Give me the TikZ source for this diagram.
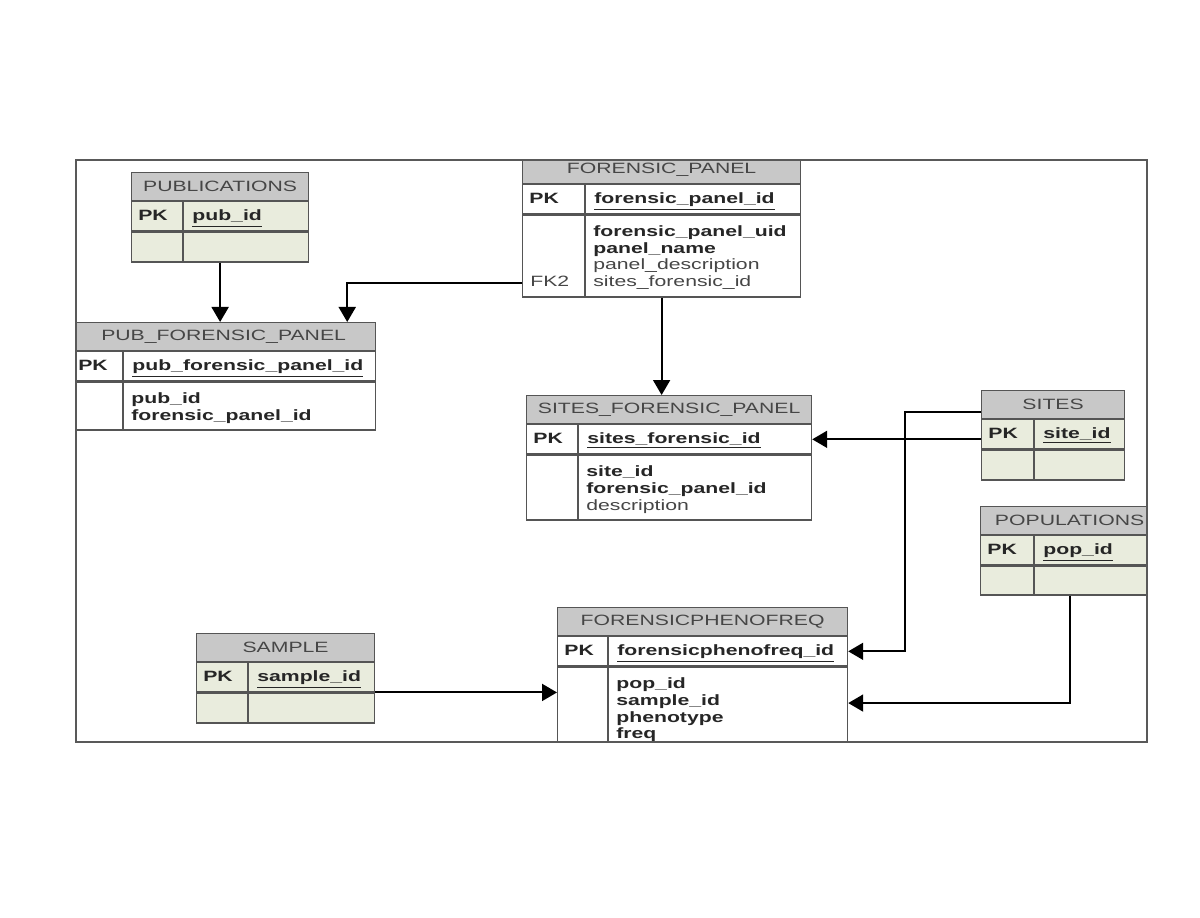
\documentclass[tikz,border=0pt]{standalone}
\usepackage{fontspec}
\setmainfont[FakeStretch=1.42]{Liberation Sans}
\usetikzlibrary{arrows.meta,positioning,calc}
\definecolor{hdrgray}{RGB}{200,200,200}
\definecolor{keygreen}{RGB}{233,236,221}
\definecolor{linegray}{RGB}{85,85,85}
\definecolor{textgray}{RGB}{70,70,70}
\newcommand{\attr}[1]{{\mdseries\color{textgray}#1}}
\tikzset{
  tblhead/.style={draw=linegray, fill=hdrgray, minimum height=0.56cm, inner sep=0pt, line width=0.7pt, text=textgray, font=\fontsize{8.5}{9.5}\selectfont},
  tblrow/.style={draw=linegray, inner sep=0pt, line width=0.7pt},
  keytext/.style={anchor=base west, inner sep=0pt, text=black!85, font=\fontsize{8.5}{9.5}\selectfont\bfseries},
  bodytext/.style={anchor=north west, inner sep=0pt, align=left, text=black!85, font=\fontsize{8.5}{9.5}\selectfont\bfseries},
  rel/.style={-{Triangle[length=3mm,width=3.4mm]}, line width=1.1pt},
  frame/.style={draw=black!65, line width=0.6pt}
}
% one entity box: name, top left (px), width, key column, title, primary key, body height, body rows, fill
\newcommand{\ertable}[9]{%
  \node[tblhead, minimum width={#3*0.02cm}, anchor=north west] (#1) at (#2) {#5};
  \node[tblrow, fill=#9, minimum width={#3*0.02cm}, minimum height=0.58cm, anchor=north west] (#1-pk) at (#1.south west) {};
  \node[tblrow, fill=#9, minimum width={#3*0.02cm}, minimum height={#7*0.02cm}, anchor=north west] (#1-b) at (#1-pk.south west) {};
  \draw[tblrow] ([xshift={#4*0.02cm}]#1-pk.north west) -- ([xshift={#4*0.02cm}]#1-b.south west);
  \node[keytext] (#1-key) at ([xshift=0.14cm, yshift=-2.4pt]#1-pk.west) {PK};
  \node[keytext] (#1-id) at ([xshift={(#4+9)*0.02cm}, yshift=-2.4pt]#1-pk.west) {\underline{#6}};
  \node[bodytext] (#1-txt) at ([xshift={(#4+8)*0.02cm}, yshift=-0.22cm]#1-b.north west) {#8};
}

\begin{document}
\begin{tikzpicture}[x=0.02cm, y=-0.02cm]
  \useasboundingbox (0,0) rectangle (1200,918);
  \begin{scope}
    \clip (76,160) rectangle (1147,742);
    \ertable{pub}{131,172}{177}{52}{PUBLICATIONS}{pub\_id}{30}{}{keygreen}
    \ertable{pfp}{71,322}{304}{52}{PUB\_FORENSIC\_PANEL}{pub\_forensic\_panel\_id}{48}{pub\_id\\forensic\_panel\_id}{white}
    \ertable{fp}{522,155}{278}{63}{FORENSIC\_PANEL}{forensic\_panel\_id}{82}{forensic\_panel\_uid\\panel\_name\\\attr{panel\_description}\\\attr{sites\_forensic\_id}}{white}
    \node[keytext, anchor=south west, font=\fontsize{8.5}{9.5}\selectfont, text=textgray] (fk2) at ([xshift=0.16cm]fp-b.west |- fp-txt.south) {\vphantom{\_}FK2};
    \ertable{sfp}{526,395}{285}{52}{SITES\_FORENSIC\_PANEL}{sites\_forensic\_id}{65}{site\_id\\forensic\_panel\_id\\\attr{description}}{white}
    \ertable{sites}{981,390}{143}{53}{SITES}{site\_id}{30}{}{keygreen}
    \ertable{pop}{980,506}{178}{54}{POPULATIONS}{pop\_id}{29}{}{keygreen}
    \ertable{sample}{196,633}{178}{52}{SAMPLE}{sample\_id}{30}{}{keygreen}
    \ertable{fpf}{557,607}{290}{51}{FORENSICPHENOFREQ}{forensicphenofreq\_id}{86}{pop\_id\\sample\_id\\phenotype\\freq}{white}

    \draw[rel] (pub-b.south) -- (pub-b.south |- pfp.north);
    \draw[rel] (fp-b.west |- fk2) -| ($(pfp.north east)+(-29,0)$);
    \draw[rel] (fp-b.south) -- (fp-b.south |- sfp.north);
    \draw[rel] (sites-pk.west |- sfp-pk.east) -- (sfp-pk.east);
    \draw[rel] ([yshift=-0.14cm]sites.west) -- ++(-76,0) |- (fpf-pk.east);
    \draw[rel] (pop-b.south) |- ([yshift=0.14cm]fpf-b.east);
    \draw[rel] (sample-pk.south east) -- (sample-pk.south east -| fpf-b.west);
  \end{scope}
  \draw[frame] (76,160) rectangle (1147,742);
\end{tikzpicture}
\end{document}
